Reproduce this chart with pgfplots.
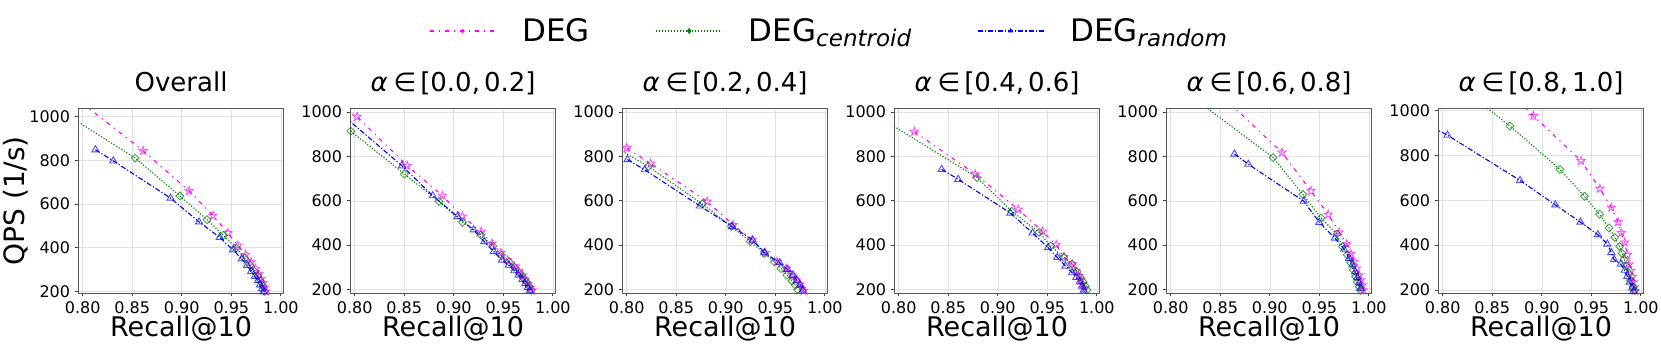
\documentclass[border=0pt]{standalone}
\usepackage{fontspec}
\setmainfont{DejaVu Sans}
\usepackage{pgfplots}
\pgfplotsset{compat=1.18}

\definecolor{degm}{RGB}{255,0,255}
\definecolor{ceng}{RGB}{0,128,0}
\definecolor{ranb}{RGB}{0,0,255}

\pgfdeclareplotmark{hstar}{%
  \pgfpathmoveto{\pgfpointpolar{90}{\pgfplotmarksize}}%
  \pgfpathlineto{\pgfpointpolar{126}{0.42\pgfplotmarksize}}%
  \pgfpathlineto{\pgfpointpolar{162}{\pgfplotmarksize}}%
  \pgfpathlineto{\pgfpointpolar{198}{0.42\pgfplotmarksize}}%
  \pgfpathlineto{\pgfpointpolar{234}{\pgfplotmarksize}}%
  \pgfpathlineto{\pgfpointpolar{270}{0.42\pgfplotmarksize}}%
  \pgfpathlineto{\pgfpointpolar{306}{\pgfplotmarksize}}%
  \pgfpathlineto{\pgfpointpolar{342}{0.42\pgfplotmarksize}}%
  \pgfpathlineto{\pgfpointpolar{18}{\pgfplotmarksize}}%
  \pgfpathlineto{\pgfpointpolar{54}{0.42\pgfplotmarksize}}%
  \pgfpathclose\pgfusepathqstroke}

\pgfplotsset{
  degs/.style={degm, line width=1.1pt, dash pattern=on 4pt off 5pt on 1.2pt off 5pt,
    mark=hstar, mark size=4.3pt, mark options={solid, line width=0.9pt, draw opacity=0.7}},
  cens/.style={ceng, line width=1.1pt, dash pattern=on 1.2pt off 1.8pt,
    mark=square, mark size=2.8pt, mark options={solid, rotate=45, line width=0.9pt, draw opacity=0.7}},
  rans/.style={ranb, line width=1.1pt, dash pattern=on 5pt off 2pt on 1.2pt off 2pt,
    mark=triangle, mark size=4.1pt, mark options={solid, line width=0.9pt, draw opacity=0.7}},
  panel/.style={
    scale only axis, width=205.5pt, height=185pt,
    anchor=south west,
    xmin=0.7955, xmax=1.003,
    xtick={0.8,0.85,0.9,0.95,1.0},
    ytick={200,400,600,800,1000},
    /pgf/number format/assume math mode=true,
    /pgf/number format/1000 sep={},
    xticklabel style={/pgf/number format/fixed, /pgf/number format/fixed zerofill,
      /pgf/number format/precision=2, inner ysep=5pt, inner xsep=0pt},
    yticklabel style={inner xsep=5pt, inner ysep=0pt},
    tick label style={font=\fontsize{16}{16}\selectfont},
    xtick pos=bottom, ytick pos=left,
    tick align=outside, major tick length=3pt,
    tick style={black!75, line width=0.8pt},
    axis line style={black!65, line width=0.8pt},
    grid=major, major grid style={black!12, line width=0.6pt},
    title style={at={(axis description cs:0.5,1)}, anchor=base, yshift=11pt,
      font=\fontsize{26}{26}\selectfont, inner sep=0pt},
    xlabel={Recall@10},
    xlabel style={at={(axis description cs:0.5,0)}, anchor=base, yshift=-43.4pt,
      font=\fontsize{27}{27}\selectfont, inner sep=0pt},
    clip=true,
  },
}

\begin{document}
\begin{tikzpicture}
\path[use as bounding box] (0,0) rectangle (1661pt,346pt);

% ---------- Panel 1: Overall ----------
\begin{axis}[panel, at={(78.3pt,52.7pt)}, ymin=191, ymax=1038,
  title={Overall},
  ylabel={QPS (1/s)},
  ylabel style={at={(axis description cs:-0.303,0.5)}, anchor=center,
    font=\fontsize{28}{28}\selectfont, inner sep=0pt},
  legend style={at={(axis description cs:3.653,1.418)}, anchor=center,
    draw=none, fill=none, legend columns=3,
    font=\fontsize{31}{31}\selectfont,
    /tikz/every odd column/.append style={column sep=24pt},
    /tikz/every even column/.append style={column sep=64pt}},
  legend image code/.code={%
    \draw[#1, mark=none] (0pt,0pt) -- (66pt,0pt);
    \draw[#1, solid] plot[only marks] coordinates {(33pt,0pt)};}
]
\addlegendimage{degm, line width=1.1pt, dash pattern=on 4pt off 5pt on 1.2pt off 5pt, mark=*, mark size=1.4pt}
\addlegendentry{DEG}
\addlegendimage{ceng, line width=1.1pt, dash pattern=on 1.2pt off 1.8pt, mark=diamond*, mark size=2.2pt}
\addlegendentry{DEG\raisebox{-5pt}{\fontsize{23}{23}\selectfont\itshape centroid}}
\addlegendimage{ranb, line width=1.1pt, dash pattern=on 5pt off 2pt on 1.2pt off 2pt, mark=triangle*, mark size=1.8pt}
\addlegendentry{DEG\raisebox{-5pt}{\fontsize{23}{23}\selectfont\itshape random}}

\addplot[degs, forget plot] coordinates {(0.80,1060) (0.861,843) (0.9074,660) (0.9315,547) (0.9466,467) (0.9567,410) (0.9644,368) (0.970,334) (0.9745,304) (0.978,279) (0.980,258) (0.982,238) (0.9836,218) (0.985,200) (0.986,188)};
\addplot[cens, forget plot] coordinates {(0.78,1020) (0.853,810) (0.898,637) (0.9255,528) (0.942,456) (0.955,398) (0.9634,352) (0.969,319) (0.9735,291) (0.9768,269) (0.9795,246) (0.982,223) (0.9835,200) (0.985,188)};
\addplot[rans, forget plot] coordinates {(0.8128,848) (0.8309,797) (0.8886,627) (0.9174,518) (0.9383,447) (0.9517,390) (0.9604,349) (0.9658,319) (0.970,291) (0.9738,269) (0.9768,249) (0.979,230) (0.981,212) (0.9826,197)};
\end{axis}

% ---------- Panel 2 ----------
\begin{axis}[panel, at={(350.3pt,52.7pt)}, ymin=183, ymax=1017,
  title={{\itshape α}\kern6pt∈\kern4pt[0.0,\kern4pt0.2]}]
\addplot[degs] coordinates {(0.79,1014) (0.8024,979) (0.853,758) (0.8885,623) (0.9088,529) (0.9277,461) (0.9385,408) (0.9476,366) (0.9544,333) (0.9611,306) (0.9655,285) (0.9693,265) (0.9723,245) (0.975,227) (0.9774,209) (0.979,197)};
\addplot[cens] coordinates {(0.796,914) (0.85,721) (0.8851,597) (0.9088,503) (0.9274,446) (0.9395,396) (0.948,355) (0.9558,325) (0.961,300) (0.966,275) (0.970,254) (0.9733,235) (0.976,215) (0.978,197)};
\addplot[rans] coordinates {(0.79,978) (0.8476,758) (0.8787,623) (0.9037,529) (0.92,469) (0.9307,416) (0.9402,371) (0.9486,333) (0.9554,310) (0.9611,285) (0.9655,265) (0.9693,245) (0.9723,227) (0.9747,209) (0.9767,194)};
\end{axis}

% ---------- Panel 3 ----------
\begin{axis}[panel, at={(622.3pt,52.7pt)}, ymin=183, ymax=1017,
  title={{\itshape α}\kern6pt∈\kern4pt[0.2,\kern4pt0.4]}]
\addplot[degs] coordinates {(0.80,838) (0.8242,768) (0.8812,597) (0.9074,491) (0.9265,423) (0.9399,366) (0.9517,325) (0.961,295) (0.9668,265) (0.9711,242) (0.9745,224) (0.9768,205) (0.9785,194)};
\addplot[cens] coordinates {(0.79,838) (0.8218,755) (0.8762,586) (0.9057,484) (0.9248,416) (0.9389,363) (0.949,325) (0.9557,295) (0.9617,265) (0.9668,239) (0.9701,220) (0.9725,200)};
\addplot[rans] coordinates {(0.8007,786) (0.8181,740) (0.8738,577) (0.9064,484) (0.9272,423) (0.9389,366) (0.9544,321) (0.9624,291) (0.9678,265) (0.9718,242) (0.9752,220) (0.9779,197)};
\end{axis}

% ---------- Panel 4 ----------
\begin{axis}[panel, at={(894.3pt,52.7pt)}, ymin=183, ymax=1017,
  title={{\itshape α}\kern6pt∈\kern4pt[0.4,\kern4pt0.6]}]
\addplot[degs] coordinates {(0.8157,912) (0.8773,720) (0.9207,561) (0.945,462) (0.959,402) (0.9667,348) (0.975,315) (0.979,285) (0.9817,261) (0.984,242) (0.986,224) (0.9873,205)};
\addplot[cens] coordinates {(0.79,950) (0.879,705) (0.914,553) (0.9417,458) (0.9533,397) (0.9667,345) (0.975,315) (0.98,280) (0.9833,255) (0.986,235) (0.9883,215) (0.99,197)};
\addplot[rans] coordinates {(0.8433,742) (0.86,697) (0.9127,545) (0.935,455) (0.9507,389) (0.96,345) (0.9683,306) (0.975,276) (0.9793,255) (0.9827,235) (0.985,215) (0.9867,197)};
\end{axis}

% ---------- Panel 5 ----------
\begin{axis}[panel, at={(1166.3pt,52.7pt)}, ymin=183, ymax=1017,
  title={{\itshape α}\kern6pt∈\kern4pt[0.6,\kern4pt0.8]}]
\addplot[degs] coordinates {(0.86,1037) (0.9123,818) (0.9417,644) (0.959,538) (0.97,458) (0.9777,405) (0.9817,361) (0.985,326) (0.9877,295) (0.99,265) (0.9917,242) (0.9933,220) (0.9943,197)};
\addplot[cens] coordinates {(0.83,1040) (0.9033,795) (0.9333,629) (0.9517,523) (0.9677,450) (0.9733,394) (0.9783,356) (0.9817,321) (0.9843,288) (0.9867,258) (0.9883,235) (0.9903,212) (0.9917,197)};
\addplot[rans] coordinates {(0.8643,811) (0.8783,765) (0.9343,598) (0.95,503) (0.9657,432) (0.975,382) (0.98,341) (0.9833,311) (0.986,280) (0.9883,255) (0.99,230) (0.9917,205)};
\end{axis}

% ---------- Panel 6 ----------
\begin{axis}[panel, at={(1438.3pt,52.7pt)}, ymin=185, ymax=1011,
  title={{\itshape α}\kern6pt∈\kern4pt[0.8,\kern4pt1.0]}]
\addplot[degs] coordinates {(0.878,1035) (0.8915,977) (0.9397,776) (0.9586,652) (0.9702,568) (0.977,503) (0.9803,455) (0.9837,412) (0.9864,356) (0.9881,315) (0.9898,285) (0.9912,258) (0.9922,235) (0.9932,212) (0.9939,197)};
\addplot[cens] coordinates {(0.84,1028) (0.8678,932) (0.9183,738) (0.9431,618) (0.9583,538) (0.9678,477) (0.9736,435) (0.9786,394) (0.981,364) (0.983,336) (0.9854,306) (0.9878,273) (0.9898,242) (0.9922,212) (0.9939,197)};
\addplot[rans] coordinates {(0.79,925) (0.8047,891) (0.878,689) (0.9136,580) (0.939,503) (0.9566,447) (0.9661,405) (0.9702,367) (0.9729,336) (0.9797,315) (0.9837,288) (0.9864,261) (0.9888,235) (0.9912,209) (0.9925,194)};
\end{axis}
\end{tikzpicture}
\end{document}
